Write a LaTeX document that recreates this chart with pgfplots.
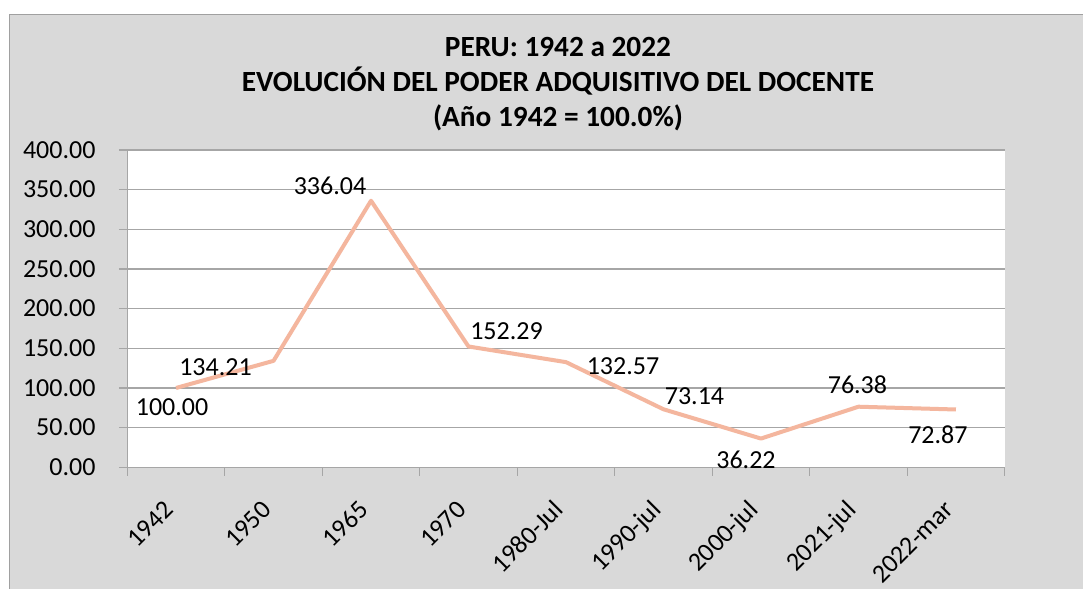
\documentclass[border=0pt]{standalone}
\usepackage{fontspec}
\setmainfont{Carlito}
\usepackage{pgfplots}
\pgfplotsset{compat=1.18}
\usepackage{pgfplotstable}
\definecolor{bg}{RGB}{217,217,217}
\definecolor{gridc}{RGB}{166,166,166}
\definecolor{borderc}{RGB}{160,160,160}
\definecolor{linec}{RGB}{244,182,158}
\pgfplotstableread{
x y lab dx dy
0 100.00 100.00 -4 -19
1 134.21 134.21 -58 -6
2 336.04 336.04 -41 15
3 152.29 152.29 38 15
4 132.57 132.57 57 -4.5
5 73.14 73.14 31 13
6 36.22 36.22 -15 -21
7 76.38 76.38 -1 22
8 72.87 72.87 -18 -25
}\datatable
\newcommand{\lbl}{\fontsize{26bp}{31bp}\selectfont}
\begin{document}
\begin{tikzpicture}
\useasboundingbox (0,0) rectangle (1083bp,589bp);
\fill[white] (0,0) rectangle (1083bp,589bp);
\fill[bg] (9.5bp,0) rectangle (1083bp,574.3bp);
\draw[borderc, line width=1bp] (9.5bp,0) -- (9.5bp,574.3bp) -- (1083bp,574.3bp);
\node[font=\fontsize{29.3bp}{35bp}\selectfont\bfseries, align=center, inner sep=0pt] at (558bp,505bp)
 {PERU: 1942 a 2022\\EVOLUCIÓN DEL PODER ADQUISITIVO DEL DOCENTE\\(Año 1942 = 100.0\%)};
\begin{axis}[
 at={(127.3bp,121.7bp)}, anchor=south west,
 scale only axis, width=877.4bp, height=317.3bp,
 xmin=-0.5, xmax=8.5, ymin=0, ymax=400,
 axis lines*=left,
 axis line style={draw=gridc, line width=1.2bp, -},
 axis background/.style={fill=white},
 ytick={0,50,...,400},
 ymajorgrids, grid style={draw=gridc, line width=1.2bp},
 xtick={0,...,8},
 xticklabels={1942,1950,1965,1970,1980-Jul,1990-jul,2000-jul,2021-jul,2022-mar},
 minor xtick={-0.5,0.5,...,8.5},
 minor ytick={0,50,...,400},
 major tick length=0pt, minor tick length=8.5bp,
 tick align=outside,
 tick style={draw=gridc, line width=1.2bp},
 /pgf/number format/.cd, fixed, fixed zerofill, precision=2, assume math mode=true,
 /pgfplots/.cd,
 yticklabel style={font=\lbl, anchor=east, inner sep=0pt, xshift=-31.6bp},
 xticklabel style={font=\lbl, anchor=base east, inner sep=0pt, xshift=-1bp, yshift=-44bp, rotate=45},
 clip=false,
]
\addplot[linec, line width=4bp, line join=round, mark=none,
  nodes near coords, point meta=explicit symbolic,
  visualization depends on={\thisrow{dx}\as\dx},
  visualization depends on={\thisrow{dy}\as\dy},
  nodes near coords style={font=\lbl, text=black, anchor=center, inner sep=0pt, xshift=\dx bp, yshift=\dy bp}]
  table[x=x, y=y, meta=lab] {\datatable};
\end{axis}
\end{tikzpicture}
\end{document}
